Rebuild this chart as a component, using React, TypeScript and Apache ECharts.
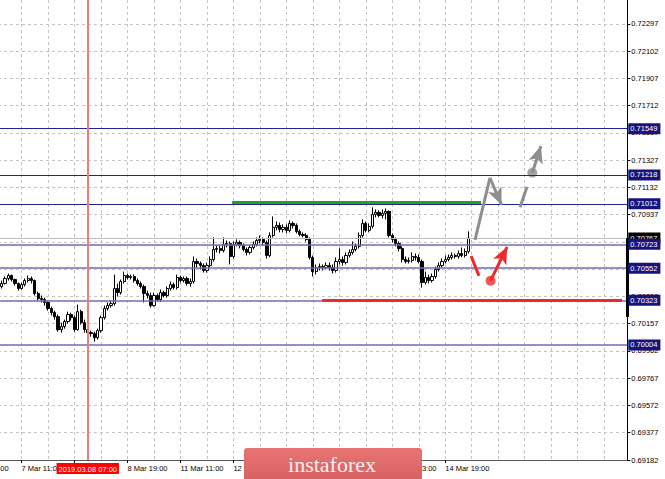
import { useEffect, useRef } from "react";
import * as echarts from "echarts";

// AUDUSD H1, one row per bar: [open, close, low, high]
const candles: number[][] = [
  [0.70421, 0.70443, 0.70407, 0.70464], [0.70443, 0.70478, 0.70435, 0.70493], [0.70478, 0.705, 0.70464, 0.70514],
  [0.705, 0.70471, 0.70457, 0.70507], [0.70471, 0.70443, 0.70428, 0.70478], [0.70443, 0.70407, 0.70392, 0.7045],
  [0.70407, 0.70435, 0.704, 0.7045], [0.70435, 0.70464, 0.70421, 0.70478], [0.70464, 0.70478, 0.7045, 0.705],
  [0.70478, 0.70464, 0.70443, 0.70493], [0.70464, 0.70371, 0.70357, 0.70471], [0.70371, 0.70335, 0.70321, 0.70385],
  [0.70335, 0.70328, 0.70307, 0.70357], [0.70328, 0.70307, 0.70285, 0.70342], [0.70307, 0.70264, 0.70249, 0.70321],
  [0.70264, 0.70235, 0.70214, 0.70278], [0.70235, 0.70206, 0.70185, 0.70249], [0.70206, 0.70113, 0.70099, 0.70221],
  [0.70113, 0.70135, 0.70092, 0.70163], [0.70135, 0.70171, 0.7012, 0.70185], [0.70171, 0.70221, 0.70156, 0.70242],
  [0.70221, 0.70199, 0.70178, 0.70235], [0.70199, 0.70113, 0.70099, 0.70214], [0.70113, 0.70242, 0.70106, 0.70292],
  [0.70242, 0.70163, 0.70149, 0.70256], [0.70163, 0.70113, 0.70092, 0.70185], [0.70113, 0.70092, 0.70077, 0.70128],
  [0.70092, 0.70085, 0.70063, 0.70106], [0.70085, 0.70056, 0.70027, 0.70099], [0.70056, 0.70106, 0.70042, 0.7012],
  [0.70106, 0.70199, 0.70092, 0.70214], [0.70199, 0.70264, 0.70185, 0.70285], [0.70264, 0.70285, 0.70249, 0.70307],
  [0.70285, 0.70299, 0.70271, 0.70321], [0.70299, 0.70407, 0.70285, 0.70507], [0.70407, 0.70378, 0.7035, 0.70443],
  [0.70378, 0.70457, 0.70364, 0.70471], [0.70457, 0.705, 0.70443, 0.70528], [0.705, 0.70486, 0.70471, 0.70514],
  [0.70486, 0.70493, 0.70471, 0.70507], [0.70493, 0.70464, 0.7045, 0.70507], [0.70464, 0.70443, 0.70428, 0.70478],
  [0.70443, 0.70421, 0.70407, 0.70457], [0.70421, 0.70371, 0.70307, 0.70435], [0.70371, 0.70357, 0.70335, 0.70392],
  [0.70357, 0.70285, 0.70271, 0.70378], [0.70285, 0.70357, 0.70278, 0.70378], [0.70357, 0.70328, 0.70314, 0.70371],
  [0.70328, 0.70378, 0.70314, 0.704], [0.70378, 0.70357, 0.70342, 0.70392], [0.70357, 0.70407, 0.70342, 0.70421],
  [0.70407, 0.70435, 0.70392, 0.70457], [0.70435, 0.70414, 0.704, 0.7045], [0.70414, 0.70486, 0.704, 0.70507],
  [0.70486, 0.70464, 0.7045, 0.705], [0.70464, 0.70478, 0.7045, 0.70493], [0.70478, 0.70443, 0.70428, 0.70493],
  [0.70443, 0.70457, 0.70421, 0.70478], [0.70457, 0.706, 0.70443, 0.70636], [0.706, 0.70586, 0.70557, 0.70621],
  [0.70586, 0.70571, 0.70543, 0.706], [0.70571, 0.70536, 0.70521, 0.70586], [0.70536, 0.70571, 0.70521, 0.70593],
  [0.70571, 0.70614, 0.70557, 0.70636], [0.70614, 0.70686, 0.706, 0.70772], [0.70686, 0.70693, 0.70665, 0.70715],
  [0.70693, 0.70679, 0.70657, 0.70715], [0.70679, 0.70722, 0.70665, 0.70772], [0.70722, 0.70729, 0.707, 0.7075],
  [0.70729, 0.70636, 0.70579, 0.70743], [0.70636, 0.70722, 0.70621, 0.70743], [0.70722, 0.70736, 0.70708, 0.70758],
  [0.70736, 0.70715, 0.70693, 0.7075], [0.70715, 0.70686, 0.70672, 0.70729], [0.70686, 0.70665, 0.70643, 0.707],
  [0.70665, 0.707, 0.7065, 0.70715], [0.707, 0.70722, 0.70686, 0.70743], [0.70722, 0.7075, 0.70708, 0.70772],
  [0.7075, 0.70758, 0.70729, 0.70786], [0.70758, 0.70736, 0.70715, 0.70772], [0.70736, 0.70643, 0.70621, 0.7075],
  [0.70643, 0.70786, 0.70629, 0.70808], [0.70786, 0.70844, 0.70772, 0.70922], [0.70844, 0.70858, 0.70822, 0.70886],
  [0.70858, 0.70829, 0.70808, 0.70879], [0.70829, 0.70844, 0.70808, 0.70865], [0.70844, 0.70822, 0.70801, 0.70865],
  [0.70822, 0.70872, 0.70808, 0.70894], [0.70872, 0.70858, 0.70836, 0.70886], [0.70858, 0.70815, 0.70801, 0.70872],
  [0.70815, 0.70793, 0.70779, 0.70829], [0.70793, 0.70786, 0.70772, 0.70808], [0.70786, 0.70758, 0.70743, 0.70801],
  [0.70758, 0.70629, 0.70614, 0.70772], [0.70629, 0.70528, 0.70493, 0.70643], [0.70528, 0.70557, 0.70507, 0.70579],
  [0.70557, 0.70564, 0.70536, 0.70586], [0.70564, 0.70557, 0.70536, 0.70579], [0.70557, 0.70571, 0.70543, 0.70593],
  [0.70571, 0.70557, 0.70536, 0.70593], [0.70557, 0.70536, 0.70514, 0.70579], [0.70536, 0.706, 0.70521, 0.70629],
  [0.706, 0.70614, 0.70579, 0.70693], [0.70614, 0.70593, 0.70571, 0.70636], [0.70593, 0.70643, 0.70579, 0.70665],
  [0.70643, 0.70665, 0.70629, 0.70686], [0.70665, 0.70686, 0.7065, 0.70743], [0.70686, 0.70708, 0.70672, 0.70729],
  [0.70708, 0.70786, 0.70693, 0.70808], [0.70786, 0.70872, 0.70772, 0.70901], [0.70872, 0.70822, 0.70808, 0.70886],
  [0.70822, 0.70851, 0.70808, 0.70872], [0.70851, 0.70937, 0.70836, 0.70987], [0.70937, 0.70951, 0.70915, 0.70972],
  [0.70951, 0.70929, 0.70915, 0.70965], [0.70929, 0.70944, 0.70908, 0.70972], [0.70944, 0.70958, 0.70901, 0.70979],
  [0.70958, 0.70786, 0.70772, 0.70965], [0.70786, 0.70758, 0.70736, 0.70801], [0.70758, 0.70729, 0.70708, 0.70772],
  [0.70729, 0.70693, 0.70672, 0.70743], [0.70693, 0.70614, 0.70593, 0.70708], [0.70614, 0.706, 0.70586, 0.70636],
  [0.706, 0.70607, 0.70586, 0.70629], [0.70607, 0.70636, 0.70593, 0.70665], [0.70636, 0.70629, 0.70607, 0.70657],
  [0.70629, 0.706, 0.70586, 0.7065], [0.706, 0.7045, 0.70414, 0.70614], [0.7045, 0.70486, 0.70435, 0.70528],
  [0.70486, 0.70464, 0.70443, 0.70507], [0.70464, 0.70493, 0.7045, 0.70514], [0.70493, 0.70543, 0.70478, 0.70564],
  [0.70543, 0.70571, 0.70528, 0.70593], [0.70571, 0.706, 0.70557, 0.70621], [0.706, 0.70614, 0.70586, 0.70643],
  [0.70614, 0.70629, 0.706, 0.7065], [0.70629, 0.70643, 0.70614, 0.70665], [0.70643, 0.70636, 0.70621, 0.70657],
  [0.70636, 0.70657, 0.70621, 0.70679], [0.70657, 0.70643, 0.70629, 0.707], [0.70643, 0.70672, 0.70629, 0.70693],
  [0.70672, 0.70767, 0.70657, 0.70815],
];

const xTickLabels = [
  "6 Mar 19:00", "7 Mar 11:00", "8 Mar 03:00", "8 Mar 19:00", "11 Mar 11:00",
  "12 Mar 03:00", "12 Mar 19:00", "13 Mar 11:00", "14 Mar 03:00", "14 Mar 19:00",
];
const yTickLabels = [
  "0.69182", "0.69377", "0.69572", "0.69767", "0.69962", "0.70157", "0.70352", "0.70547", "0.70742",
  "0.70937", "0.71132", "0.71327", "0.71517", "0.71712", "0.71907", "0.72102", "0.72297",
];
const yTickBase = 0.69182;
const yTickStep = 0.0019469;

const levelPrices = [0.71549, 0.71218, 0.71012, 0.70723, 0.70552, 0.70323, 0.70004];
const levelLabels = ["0.71549", "0.71218", "0.71012", "0.70723", "0.70552", "0.70323", "0.70004"];
const bidPrice = 0.70767;
const bidLabel = "0.70767";
const markedBar = 26; // 2019.03.08 07:00
const markedBarLabel = "2019.03.08 07:00";

// drawn objects, [slot, price]
const resistance = [[81.6, 0.71025], [156.8, 0.71025]];
const support = [[108.8, 0.70323], [199.4, 0.70323]];
const grayUp = [[155, 0.70754], [159.5, 0.71197]];
const grayDown = [[159.5, 0.71197], [163, 0.71005]];
const grayDash = [[168.6, 0.70987], [170.7, 0.71134]];
const grayDot = [172.3, 0.71234];
const grayTip = [174.9, 0.71425];
const redDash = [[153.8, 0.70639], [156.2, 0.70497]];
const redDot = [159.7, 0.70463];
const redTip = [164.7, 0.70705];
const dayRange = [0.70767, 0.70204];

const LEAD = 12; // slots left of the first bar, outside the picture
const SLOTS = 202;
const SHIFT = 38; // px of the plot hidden past the left edge
const TICK_FIRST = 2;
const TICK_STEP = 16;
const GRID_STEP = 8;
const PRICE_MIN = 0.69182;
const PRICE_MAX = 0.72468;

const FONT = "Liberation Sans";
const GRAY = "#8e8e8e";
const RED = "#ee2a2a";

export default function App() {
  const ref = useRef<HTMLDivElement>(null);

  useEffect(() => {
    if (!ref.current) return;
    const chart = echarts.init(ref.current, null, { renderer: "svg" });

    const cats = Array.from({ length: SLOTS }, (_, i) => String(i));
    const isTick = (i: number) =>
      i >= TICK_FIRST && (i - TICK_FIRST) % TICK_STEP === 0 && (i - TICK_FIRST) / TICK_STEP < xTickLabels.length;
    const data = candles.map((c, i) => [LEAD + i, ...c]);
    const seg = (a: number[], b: number[], color: string, width: number, label?: object) => [
      { coord: a, lineStyle: { color, width, type: "solid" }, label: label ?? { show: false } },
      { coord: b },
    ];
    const boxLabel = (text: string, bg: string) => ({
      show: true,
      position: "end",
      distance: 1,
      formatter: text,
      color: "#fff",
      backgroundColor: bg,
      padding: [2, 3, 1, 2],
      fontSize: 7.5,
      fontFamily: FONT,
    });
    const hLine = (p: number, color: string, width: number, label: object) =>
      seg([0, p], [SLOTS - 1, p], color, width, label);

    chart.setOption({
      animation: false,
      backgroundColor: "#fff",
      grid: { left: 0, right: 37.7, top: 0, bottom: 19 },
      xAxis: [
        {
          type: "category",
          data: cats,
          boundaryGap: false,
          axisLine: { lineStyle: { color: "#555", width: 1 } },
          axisTick: { interval: (i: number) => isTick(i), length: 3, lineStyle: { color: "#000" } },
          axisLabel: {
            interval: (i: number) => isTick(i),
            formatter: (_v: string, i: number) => xTickLabels[(i - TICK_FIRST) / TICK_STEP] ?? "",
            align: "left",
            margin: 4,
            fontSize: 7.5,
            color: "#000",
            fontFamily: FONT,
          },
          splitLine: {
            show: true,
            interval: (i: number) => i >= TICK_FIRST && (i - TICK_FIRST) % GRID_STEP === 0,
            lineStyle: { color: "#c4c4c4", type: [3, 3], width: 1 },
          },
        },
        { type: "value", min: 0, max: SLOTS - 1, show: false },
      ],
      yAxis: [
        { type: "value", min: PRICE_MIN, max: PRICE_MAX, show: false },
        {
          type: "value",
          position: "right",
          min: 0,
          max: (PRICE_MAX - yTickBase) / yTickStep,
          interval: 1,
          axisLine: { show: true, lineStyle: { color: "#000", width: 1 } },
          axisTick: { show: true, length: 3, lineStyle: { color: "#000" } },
          axisLabel: {
            formatter: (v: number) => yTickLabels[Math.round(v)] ?? "",
            showMaxLabel: false,
            margin: 4,
            fontSize: 7.5,
            color: "#000",
            fontFamily: FONT,
          },
          splitLine: { show: true, showMaxLine: false, lineStyle: { color: "#c4c4c4", type: [3, 3], width: 1 } },
        },
      ],
      series: [
        {
          type: "candlestick",
          xAxisIndex: 0,
          yAxisIndex: 0,
          data,
          encode: { x: 0, y: [1, 2, 3, 4] },
          barWidth: 2.7,
          itemStyle: { color: "#fff", color0: "#000", borderColor: "#000", borderColor0: "#000", borderWidth: 1 },
        },
        {
          type: "scatter",
          xAxisIndex: 1,
          yAxisIndex: 0,
          clip: false,
          symbolSize: 10,
          z: 3,
          data: [
            { value: grayDot, itemStyle: { color: GRAY } },
            { value: redDot, itemStyle: { color: RED } },
          ],
          markLine: {
            silent: true,
            symbol: ["none", "none"],
            data: [
              hLine(bidPrice, "#bcbcbc", 1, boxLabel(bidLabel, "#000")),
              ...levelPrices.map((p, i) =>
                hLine(p, i < 3 ? "#24248e" : "#6e6eba", i < 3 ? 1 : 1.6, boxLabel(levelLabels[i], "#14147c"))
              ),
              seg([LEAD + markedBar, PRICE_MIN], [LEAD + markedBar, PRICE_MAX], "#f47a7a", 2, {
                show: true,
                position: "start",
                distance: 3,
                formatter: markedBarLabel,
                color: "#fff",
                backgroundColor: "#ff0000",
                padding: [2, 2, 1, 2],
                fontSize: 7.5,
                fontFamily: FONT,
              }),
              seg(resistance[0], resistance[1], "#1fa31f", 3),
              seg(support[0], support[1], RED, 3),
              seg(grayUp[0], grayUp[1], GRAY, 3),
              seg(grayDash[0], grayDash[1], GRAY, 3),
              seg(redDash[0], redDash[1], RED, 3),
              seg([SLOTS - 1, dayRange[0]], [SLOTS - 1, dayRange[1]], "#000", 3),
            ],
          },
        },
        {
          type: "scatter",
          xAxisIndex: 1,
          yAxisIndex: 0,
          clip: false,
          data: [],
          z: 3,
          markLine: {
            silent: true,
            symbol: ["none", "arrow"],
            symbolSize: [11, 17],
            label: { show: false },
            data: [
              seg(grayDown[0], grayDown[1], GRAY, 3),
              seg(grayDot, grayTip, GRAY, 3),
              seg(redDot, redTip, RED, 3),
            ],
          },
        },
      ],
      graphic: [
        {
          type: "rect",
          z: 100,
          shape: { x: 244 + SHIFT, y: 448, width: 178, height: 34, r: 3 },
          style: {
            fill: new echarts.graphic.LinearGradient(0, 0, 0, 1, [
              { offset: 0, color: "#e87474" },
              { offset: 1, color: "#d66060" },
            ]),
          },
        },
        {
          type: "text",
          z: 101,
          x: 332 + SHIFT,
          y: 464,
          style: {
            text: "instaforex",
            fill: "#fdeeee",
            font: '22px "Liberation Sans Narrow"',
            textAlign: "center",
            textVerticalAlign: "middle",
          },
        },
      ],
    });

    return () => chart.dispose();
  }, []);

  return (
    <div
      ref={ref}
      style={{ position: "fixed", left: -SHIFT, top: 0, width: 665 + SHIFT, height: 479 }}
    />
  );
}
